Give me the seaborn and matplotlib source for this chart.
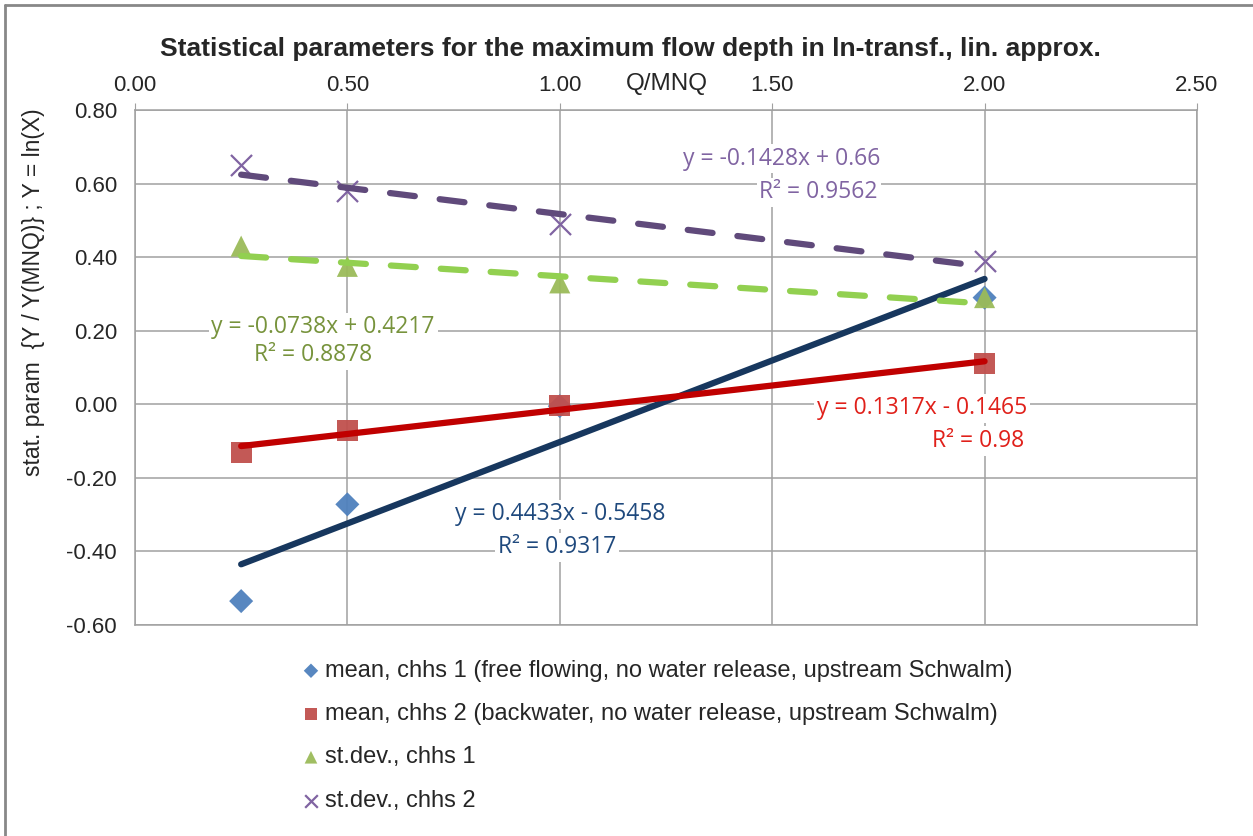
import seaborn as sns
import matplotlib.pyplot as plt
import pandas as pd
import numpy as np

# Q/MNQ values and measured statistical parameters
q_mnq = [0.25, 0.50, 1.00, 2.00]
mean_chhs1 = [-0.535, -0.272, -0.005, 0.290]
mean_chhs2 = [-0.132, -0.072, -0.003, 0.110]
sd_chhs1 = [0.430, 0.375, 0.330, 0.290]
sd_chhs2 = [0.650, 0.580, 0.490, 0.390]

series_names = ['mean, chhs 1 (free flowing, no water release, upstream Schwalm)',
                'mean, chhs 2 (backwater, no water release, upstream Schwalm)',
                'st.dev., chhs 1',
                'st.dev., chhs 2']

# linear trendlines (Excel)
slopes = [0.4433, 0.1317, -0.0738, -0.1428]
intercepts = [-0.5458, -0.1465, 0.4217, 0.66]
r2 = [0.9317, 0.98, 0.8878, 0.9562]

x_ticks = [0.0, 0.5, 1.0, 1.5, 2.0, 2.5]
y_ticks = [-0.6, -0.4, -0.2, 0.0, 0.2, 0.4, 0.6, 0.8]

sns.set_style('white')
plt.rcParams['font.family'] = ['Liberation Sans', 'DejaVu Sans']

fig = plt.figure(figsize=(12.53, 8.36), dpi=100)
ax = fig.add_axes([0.1077, 0.2524, 0.8476, 0.616])

marker_colors = ['#4F81BD', '#C0504D', '#9BBB59', '#8064A2']
markers = ['D', 's', '^', 'x']
msizes = [150, 230, 230, 230]
line_colors = ['#17375E', '#C00000', '#92D050', '#604A7B']
text_colors = ['#1F497D', '#E0201A', '#77933C', '#8064A2']
dashed = [False, False, True, True]

values = [mean_chhs1, mean_chhs2, sd_chhs1, sd_chhs2]
for i in range(4):
    df = pd.DataFrame({'x': q_mnq, 'y': values[i]})
    if markers[i] == 'x':
        sns.scatterplot(data=df, x='x', y='y', ax=ax, marker='x', s=msizes[i],
                        color=marker_colors[i], linewidth=1.6, zorder=3,
                        label=series_names[i])
    else:
        sns.scatterplot(data=df, x='x', y='y', ax=ax, marker=markers[i], s=msizes[i],
                        color=marker_colors[i], edgecolor='none', alpha=0.95, zorder=3,
                        label=series_names[i])
    xs = np.array([q_mnq[0], q_mnq[-1]])
    trend = pd.DataFrame({'x': xs, 'y': slopes[i] * xs + intercepts[i]})
    sns.lineplot(data=trend, x='x', y='y', ax=ax, color=line_colors[i], linewidth=4.5,
                 linestyle=(0, (4, 4)) if dashed[i] else '-', zorder=4,
                 solid_capstyle='round', dash_capstyle='round', legend=False)

def eq(i):
    sign = '+' if intercepts[i] >= 0 else '-'
    return f'y = {slopes[i]:g}x {sign} {abs(intercepts[i]):g}'

box = dict(facecolor='white', edgecolor='none', pad=2)
lab_font = ['Open Sans', 'DejaVu Sans']
fs_lab = 16.5
# blue
ax.text(1.0, -0.299, eq(0), color=text_colors[0], fontsize=fs_lab, family=lab_font,
        ha='center', va='center', bbox=box, zorder=5)
ax.text(0.993, -0.389, f'R² = {r2[0]}', color=text_colors[0], fontsize=fs_lab, family=lab_font,
        ha='center', va='center', bbox=box, zorder=5)
# red
ax.text(2.10, -0.011, eq(1), color=text_colors[1], fontsize=fs_lab, family=lab_font,
        ha='right', va='center', bbox=box, zorder=5)
ax.text(2.093, -0.100, f'R² = {r2[1]}', color=text_colors[1], fontsize=fs_lab, family=lab_font,
        ha='right', va='center', bbox=box, zorder=5)
# green
ax.text(0.443, 0.209, eq(2), color=text_colors[2], fontsize=fs_lab, family=lab_font,
        ha='center', va='center', bbox=box, zorder=5)
ax.text(0.419, 0.133, f'R² = {r2[2]}', color=text_colors[2], fontsize=fs_lab, family=lab_font,
        ha='center', va='center', bbox=box, zorder=5)
# purple
ax.text(1.754, 0.668, eq(3), color=text_colors[3], fontsize=fs_lab, family=lab_font,
        ha='right', va='center', bbox=box, zorder=5)
ax.text(1.749, 0.576, f'R² = {r2[3]}', color=text_colors[3], fontsize=fs_lab, family=lab_font,
        ha='right', va='center', bbox=box, zorder=5)

ax.set_xlim(0, 2.5)
ax.set_ylim(-0.6, 0.8)
ax.set_xticks(x_ticks)
ax.set_yticks(y_ticks)
ax.set_xticklabels([f'{v:.2f}' for v in x_ticks])
ax.set_yticklabels([f'{v:.2f}' for v in y_ticks])
ax.xaxis.tick_top()
ax.tick_params(axis='both', labelsize=16, length=5, color='#A0A0A0', direction='out')
ax.tick_params(axis='x', pad=5)
ax.tick_params(axis='y', pad=8)
ax.grid(True, color='#A0A0A0', linewidth=1.1)
ax.set_axisbelow(True)
for s in ax.spines.values():
    s.set_color('#A0A0A0')
    s.set_linewidth(1.1)
ax.set_xlabel('')
ax.set_ylabel('')

fig.text(0.532, 0.8995, 'Q/MNQ', fontsize=17.5, ha='center', va='center')
fig.text(0.027, 0.651, 'stat. param  {Y / Y(MNQ)} ; Y = ln(X)', fontsize=16.5,
         rotation=90, ha='center', va='center')
fig.text(0.503, 0.941, 'Statistical parameters for the maximum flow depth in ln-transf., lin. approx.',
         fontsize=19, fontweight='bold', ha='center', va='center')

handles, labels = ax.get_legend_handles_labels()
leg = fig.legend(handles, labels, loc='upper left', bbox_to_anchor=(0.2218, 0.236),
                 frameon=False, fontsize=17, handletextpad=0.1, labelspacing=0.9,
                 markerscale=0.6, handlelength=1.0)
ax.get_legend().remove()

# chart border
fig.add_artist(plt.Line2D([0.004, 0.004], [0, 0.994], color='#888888', linewidth=2))
fig.add_artist(plt.Line2D([0.004, 1], [0.994, 0.994], color='#888888', linewidth=2))

fig.savefig('out.png', dpi=100)
